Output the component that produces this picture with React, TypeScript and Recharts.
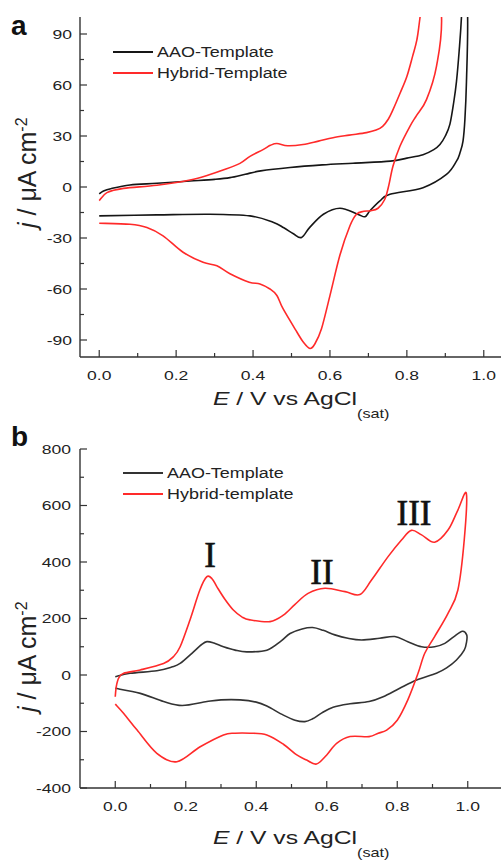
import React from "react";
import { LineChart, Line, XAxis, YAxis } from "recharts";

// panel a: [E (V), j (uA cm-2)], in scan order
const aaoA = [
  [0, -4], [0.01, -2.5], [0.03, -1], [0.08, 1.2], [0.15, 2.2], [0.236, 3.5], [0.3, 4.5], [0.34, 5.5],
  [0.38, 7.5], [0.42, 9.5], [0.496, 11.5], [0.58, 13], [0.66, 14], [0.757, 15.2], [0.8, 17], [0.842, 19],
  [0.87, 22], [0.886, 25], [0.9, 30], [0.912, 37], [0.922, 50], [0.929, 62], [0.936, 80], [0.942, 100],
  [0.95, 140], [0.958, 100], [0.955, 62], [0.951, 40], [0.946, 27], [0.938, 20], [0.929, 15.2],
  [0.903, 7.4], [0.842, -0.4], [0.756, -4.3], [0.73, -8.2], [0.704, -14], [0.691, -17.5], [0.672, -16],
  [0.626, -12.5], [0.583, -16], [0.548, -23.6], [0.526, -29.7], [0.505, -27.5], [0.48, -24],
  [0.452, -20.7], [0.392, -17], [0.288, -16], [0.15, -16.4], [0, -17],
];

const hybridA = [
  [0, -8], [0.02, -3.3], [0.063, -0.8], [0.15, 1], [0.236, 4.1], [0.29, 7.5], [0.322, 10], [0.366, 13.9],
  [0.392, 18], [0.426, 22], [0.445, 24.5], [0.462, 25.6], [0.49, 24.3], [0.53, 25], [0.57, 27],
  [0.608, 29], [0.65, 30.5], [0.695, 32], [0.72, 33.5], [0.737, 35.7], [0.752, 40], [0.764, 45.5],
  [0.782, 55], [0.8, 65], [0.815, 77], [0.826, 86.5], [0.834, 99.4], [0.862, 150],
  [0.89, 101], [0.877, 71], [0.851, 51.4], [0.825, 42], [0.808, 35.7], [0.782, 24], [0.764, 12.3],
  [0.752, 0], [0.742, -7.5], [0.725, -12.5], [0.705, -14], [0.688, -14.3], [0.669, -16], [0.652, -22.8],
  [0.626, -40], [0.6, -63.9], [0.578, -83.4], [0.561, -92.2], [0.548, -95], [0.53, -91], [0.514, -85.3],
  [0.478, -71.6], [0.462, -63.8], [0.444, -60], [0.418, -57], [0.39, -56], [0.34, -51], [0.306, -46.3],
  [0.27, -44.3], [0.218, -38.4], [0.166, -28.7], [0.124, -23.8], [0.08, -21.9], [0, -21.3],
];

// panel b
const aaoB = [
  [0, -6], [0.042, 6], [0.118, 15], [0.16, 28], [0.184, 41], [0.222, 82], [0.245, 108], [0.26, 118],
  [0.28, 113], [0.307, 100], [0.34, 88], [0.373, 82], [0.43, 88], [0.47, 120], [0.496, 147], [0.53, 163],
  [0.56, 168], [0.59, 158], [0.623, 142], [0.66, 130], [0.699, 124], [0.75, 130], [0.793, 136],
  [0.83, 118], [0.869, 100], [0.906, 100], [0.935, 112], [0.96, 135], [0.985, 155], [0.997, 142],
  [0.997, 120], [0.99, 88], [0.968, 53], [0.94, 25], [0.911, 6], [0.855, -18], [0.807, -47], [0.76, -77],
  [0.72, -94], [0.666, -102], [0.618, -114], [0.585, -135], [0.56, -155], [0.538, -165], [0.51, -160],
  [0.477, -142], [0.43, -110], [0.4, -96], [0.354, -88], [0.3, -88], [0.26, -94], [0.19, -108],
  [0.137, -94], [0.071, -65], [0, -47],
];

const hybridB = [
  [0, -77], [0.003, -40], [0.01, -10], [0.024, 6], [0.071, 18], [0.137, 41], [0.165, 65], [0.184, 100],
  [0.212, 195], [0.24, 301], [0.26, 348], [0.275, 340], [0.288, 313], [0.31, 270], [0.335, 230],
  [0.36, 205], [0.382, 195], [0.439, 189], [0.477, 212], [0.51, 250], [0.547, 289], [0.595, 307],
  [0.652, 295], [0.694, 285], [0.727, 336], [0.774, 419], [0.812, 478], [0.84, 512], [0.869, 496],
  [0.906, 470], [0.944, 513], [0.972, 584], [0.996, 643],
  [0.99, 478], [0.972, 301], [0.944, 218], [0.906, 136], [0.878, 77], [0.859, 6], [0.83, -88],
  [0.8, -160], [0.77, -195], [0.746, -206], [0.72, -218], [0.666, -218], [0.628, -242], [0.6, -283],
  [0.571, -315], [0.543, -301], [0.515, -283], [0.477, -245], [0.43, -212], [0.382, -206], [0.34, -206],
  [0.307, -212], [0.241, -254], [0.175, -307], [0.118, -277], [0.062, -195], [0.024, -136], [0, -103],
];

const xTicks = [0, 0.1, 0.2, 0.3, 0.4, 0.5, 0.6, 0.7, 0.8, 0.9, 1.0];
const yTicksA = [-90, -75, -60, -45, -30, -15, 0, 15, 30, 45, 60, 75, 90];
const yTicksB = [-400, -300, -200, -100, 0, 100, 200, 300, 400, 500, 600, 700, 800];
const peakLabels = ["I", "II", "III"];

const BLACK = "#161616";
const GREY = "#333";
const RED = "#ff2a2a";
const AXIS = "#333";
const SANS = '"Liberation Sans", Arial, sans-serif';
const SERIF = '"Liberation Serif", "Times New Roman", serif';

const pts = (rows: number[][]) => rows.map(([e, j]) => ({ e, j }));

// uniform Catmull-Rom, so closed CV loops stay smooth and pass through the read points
const catmullRom = (context: any) => {
  let p: number[][] = [];
  return {
    areaStart() {},
    areaEnd() {},
    lineStart() {
      p = [];
    },
    lineEnd() {
      if (!p.length) return;
      context.moveTo(p[0][0], p[0][1]);
      for (let i = 0; i < p.length - 1; i++) {
        const p0 = p[i - 1] || p[i];
        const p1 = p[i];
        const p2 = p[i + 1];
        const p3 = p[i + 2] || p2;
        context.bezierCurveTo(
          p1[0] + (p2[0] - p0[0]) / 6, p1[1] + (p2[1] - p0[1]) / 6,
          p2[0] - (p3[0] - p1[0]) / 6, p2[1] - (p3[1] - p1[1]) / 6,
          p2[0], p2[1]
        );
      }
    },
    point(x: number, y: number) {
      p.push([+x, +y]);
    },
  };
};

// the source image is stretched sideways, so sans text gets a 1.3 x-scale
const SText = ({ x, y, size = 13.5, anchor = "start", sx = 1.3, children, ...rest }: any) => (
  <text
    transform={`translate(${x},${y}) scale(${sx},1)`}
    fontSize={size}
    fontFamily={SANS}
    textAnchor={anchor}
    fill="#222"
    {...rest}
  >
    {children}
  </text>
);

const XTick = (props: any) => {
  const { x, y, payload } = props;
  const major = Math.round(payload.value * 10) % 2 === 0;
  return (
    <g>
      <line x1={x} x2={x} y1={y} y2={y - (major ? 7 : 4)} stroke={AXIS} strokeWidth={1.2} />
      {major && (
        <SText x={x} y={y + 23} anchor="middle">
          {payload.value.toFixed(1)}
        </SText>
      )}
    </g>
  );
};

const makeYTick = (step: number, gap: number) => (props: any) => {
  const { x, y, payload } = props;
  const major = payload.value % step === 0;
  return (
    <g>
      <line x1={x} x2={x + (major ? 7 : 4)} y1={y} y2={y} stroke={AXIS} strokeWidth={1.2} />
      {major && (
        <SText x={x - gap} y={y + 4.8} anchor="end">
          {payload.value}
        </SText>
      )}
    </g>
  );
};

const Panel = ({ top, height, plotH, xDomain, yDomain, yTicks, yStep, yGap, series }: any) => (
  <div style={{ position: "absolute", left: 0, top }}>
    <LineChart width={503} height={height} margin={{ top: 17, right: 0, bottom: 0, left: 0 }}>
      <XAxis
        dataKey="e"
        type="number"
        domain={xDomain}
        ticks={xTicks}
        interval={0}
        allowDataOverflow
        height={height - 17 - plotH}
        tickSize={0}
        tickMargin={0}
        tickLine={false}
        tick={XTick}
        axisLine={{ stroke: AXIS, strokeWidth: 1.4 }}
      />
      <XAxis
        xAxisId="top"
        orientation="top"
        type="number"
        domain={xDomain}
        allowDataOverflow
        height={0}
        tick={false}
        tickLine={false}
        axisLine={{ stroke: "#555", strokeWidth: 1.4 }}
      />
      <YAxis
        type="number"
        domain={yDomain}
        ticks={yTicks}
        interval={0}
        allowDataOverflow
        width={80}
        tickSize={0}
        tickMargin={0}
        tickLine={false}
        tick={makeYTick(yStep, yGap)}
        axisLine={{ stroke: AXIS, strokeWidth: 1.4 }}
      />
      <YAxis
        yAxisId="right"
        orientation="right"
        type="number"
        domain={yDomain}
        allowDataOverflow
        width={0}
        tick={false}
        tickLine={false}
        axisLine={{ stroke: "#555", strokeWidth: 1.4 }}
      />
      {series.map((s: any) => (
        <Line
          key={s.name}
          name={s.name}
          data={pts(s.rows)}
          dataKey="j"
          type={catmullRom as any}
          stroke={s.color}
          strokeWidth={1.6}
          dot={false}
          activeDot={false}
          isAnimationActive={false}
        />
      ))}
    </LineChart>
  </div>
);

const XTitle = ({ y }: { y: number }) => (
  <SText x={213} y={y} size={19}>
    <tspan fontStyle="italic">E</tspan> / V vs AgCl
    <tspan fontSize={12.5} dy={13}>(sat)</tspan>
  </SText>
);

const YTitle = ({ y }: { y: number }) => (
  <text transform={`translate(36,${y}) rotate(-90)`} fontSize={25} fontFamily={SANS} fill="#222">
    <tspan fontStyle="italic">j</tspan> / μA cm
    <tspan fontSize={16} dy={-9}>-2</tspan>
  </text>
);

const LegendRows = ({ x, y, labels }: any) => (
  <g>
    {labels.map((l: any, i: number) => (
      <g key={l.text}>
        <line x1={x} x2={x + 40} y1={y + i * 21} y2={y + i * 21} stroke={l.color} strokeWidth={2} />
        <SText x={x + 44} y={y + i * 21 + 5.3} size={13.8}>{l.text}</SText>
      </g>
    ))}
  </g>
);

export default function App() {
  const peakPos = [
    [210, 567],
    [322, 584],
    [414, 525],
  ];
  return (
    <div style={{ position: "fixed", left: 0, top: 0, width: 501, height: 861, overflow: "hidden", background: "#fff" }}>
      <Panel
        top={0}
        height={430}
        plotH={340}
        xDomain={[-0.05, 1.05]}
        yDomain={[-100, 100]}
        yTicks={yTicksA}
        yStep={30}
        yGap={8}
        series={[
          { name: "AAO-Template", rows: aaoA, color: BLACK },
          { name: "Hybrid-Template", rows: hybridA, color: RED },
        ]}
      />
      <Panel
        top={432}
        height={432}
        plotH={339}
        xDomain={[-0.1, 1.1]}
        yDomain={[-400, 800]}
        yTicks={yTicksB}
        yStep={200}
        yGap={9}
        series={[
          { name: "AAO-Template", rows: aaoB, color: GREY },
          { name: "Hybrid-template", rows: hybridB, color: RED },
        ]}
      />
      <svg width={501} height={861} style={{ position: "absolute", left: 0, top: 0, pointerEvents: "none" }}>
        <text x={11} y={35} fontSize={28} fontWeight="bold" fontFamily={SANS} fill="#111">a</text>
        <text x={11} y={446} fontSize={28} fontWeight="bold" fontFamily={SANS} fill="#111">b</text>
        <LegendRows
          x={113}
          y={52}
          labels={[
            { text: "AAO-Template", color: BLACK },
            { text: "Hybrid-Template", color: RED },
          ]}
        />
        <LegendRows
          x={123}
          y={473}
          labels={[
            { text: "AAO-Template", color: GREY },
            { text: "Hybrid-template", color: RED },
          ]}
        />
        <XTitle y={405} />
        <XTitle y={844} />
        <YTitle y={228} />
        <YTitle y={712} />
        {peakLabels.map((t, i) => (
          <text
            key={t}
            x={peakPos[i][0]}
            y={peakPos[i][1]}
            fontSize={35}
            fontFamily={SERIF}
            textAnchor="middle"
            fill="#111"
            stroke="#111"
            strokeWidth={0.6}
          >
            {t}
          </text>
        ))}
      </svg>
    </div>
  );
}
